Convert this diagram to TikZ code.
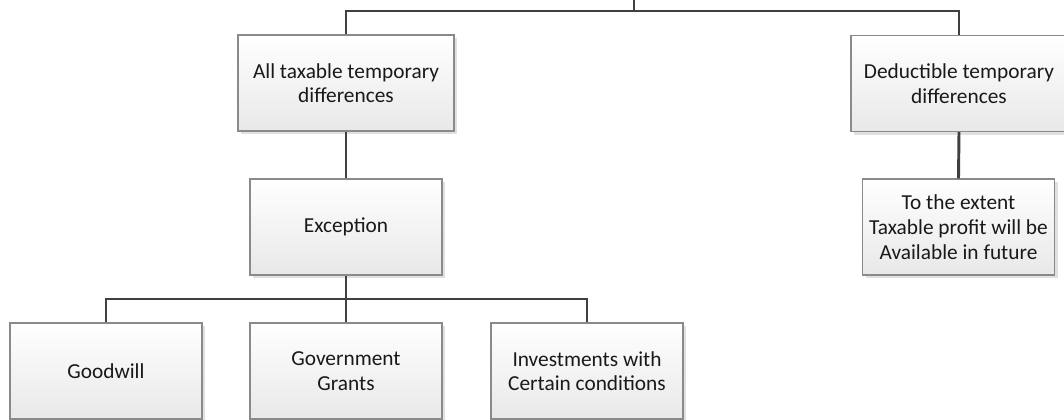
\documentclass[tikz,border=0pt]{standalone}
\usepackage{fontspec}
\setmainfont{Carlito}
\usetikzlibrary{shadows}
\definecolor{linec}{HTML}{404040}
\definecolor{boxborder}{HTML}{8A8A8A}
\tikzset{
  box/.style={draw=boxborder, line width=0.8pt, top color=white, bottom color=black!9,
    minimum height=72pt, align=center, inner sep=2pt,
    font=\fontsize{16}{18.5}\selectfont, text=black!90,
    drop shadow={shadow xshift=2.5pt, shadow yshift=-2.5pt, fill=black!12, opacity=1}},
  wide/.style={box, minimum width=162pt},
  narrow/.style={box, minimum width=144pt},
  conn/.style={draw=linec, line width=2.2pt}
}
\begin{document}
\begin{tikzpicture}[x=0.75pt, y=-0.75pt]
\clip (0,0) rectangle (1064,419);
\fill[white] (0,0) rectangle (1064,419);
\node[wide] (A) at (346,83) {All taxable temporary\\differences};
\node[wide] (D) at (959,83.5) {Deductible temporary\\differences};
\node[narrow] (E) at (346,227) {Exception};
\node[narrow] (T) at (958.5,227) {To the extent\\Taxable profit will be\\Available in future};
\node[narrow] (G) at (106,371) {Goodwill};
\node[narrow] (GG) at (346,371) {Government\\Grants};
\node[narrow] (I) at (587,371) {Investments with\\Certain conditions};
\coordinate (root) at (634,-5);
\coordinate (bus) at (634,11);
\coordinate (bus2) at (346,299);
\draw[conn] (root) -- (bus);
\draw[conn] (A.north) |- (bus) -| (D.north);
\draw[conn] (A.south) -- (E.north);
\draw[conn] (D.south) -- (T.north);
\draw[conn] (E.south) -- (GG.north);
\draw[conn] (G.north) |- (bus2) -| (I.north);
\end{tikzpicture}
\end{document}
